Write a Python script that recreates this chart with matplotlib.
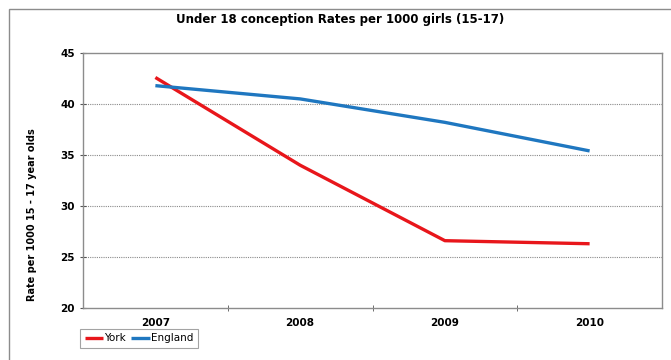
import matplotlib.pyplot as plt
from matplotlib.patches import Rectangle

years = ["2007", "2008", "2009", "2010"]
york = [42.6, 34.0, 26.6, 26.3]
england = [41.8, 40.5, 38.2, 35.4]

W, H = 671, 360
fig = plt.figure(figsize=(W / 100, H / 100), dpi=100)
plt.rcParams['font.family'] = ['DejaVu Sans']

# outer chart border
fig.patches.append(Rectangle((9 / W, -0.1), 1.0, 1 - 9 / H + 0.1, transform=fig.transFigure,
                             fill=False, edgecolor="#8c8c8c", lw=1.0))

ax = fig.add_axes([83 / W, 1 - 308 / H, (662 - 83) / W, (308 - 53) / H])
x = list(range(len(years)))
ax.plot(x, york, color="#e8161b", lw=2.4, solid_capstyle="butt", label="York")
ax.plot(x, england, color="#1f77c0", lw=2.4, solid_capstyle="butt", label="England")

ax.set_xlim(-0.5, 3.5)
ax.set_ylim(20, 45)
ax.set_yticks([20, 25, 30, 35, 40, 45])
ax.set_xticks(x)
ax.set_xticklabels(years, fontweight="bold", fontsize=7.5)
ax.set_xticks([0.5, 1.5, 2.5], minor=True)
ax.tick_params(axis="x", which="major", length=0, pad=7)
ax.tick_params(axis="x", which="minor", length=4, direction="inout", color="#555555")
ax.tick_params(axis="y", length=4, direction="inout", color="#555555", labelsize=7.5, pad=4)
for lab in ax.get_yticklabels():
    lab.set_fontweight("bold")

for yv in [25, 30, 35, 40]:
    ax.axhline(yv, color="#8a8a8a", lw=0.8, ls=(0, (1, 1)), zorder=0)

for s in ax.spines.values():
    s.set_color("#8c8c8c")
    s.set_linewidth(1.0)

ax.set_ylabel("Rate per 1000 15 - 17 year olds", fontsize=7, fontweight="bold")
ax.yaxis.set_label_coords(-0.079, 0.365)
fig.text(340 / W, 1 - 20 / H, "Under 18 conception Rates per 1000 girls (15-17)",
         ha="center", va="center", fontsize=8.5, fontweight="bold")

leg = fig.legend(loc="lower left", bbox_to_anchor=(80 / W, 1 - 348 / H), ncol=2,
                 fontsize=7.5, frameon=True, fancybox=False, handlelength=1.8,
                 handletextpad=0.1, columnspacing=0.5, borderpad=0.45, borderaxespad=0)
leg.get_frame().set_edgecolor("#8c8c8c")
leg.get_frame().set_linewidth(0.8)

fig.savefig("out.png", dpi=100)
